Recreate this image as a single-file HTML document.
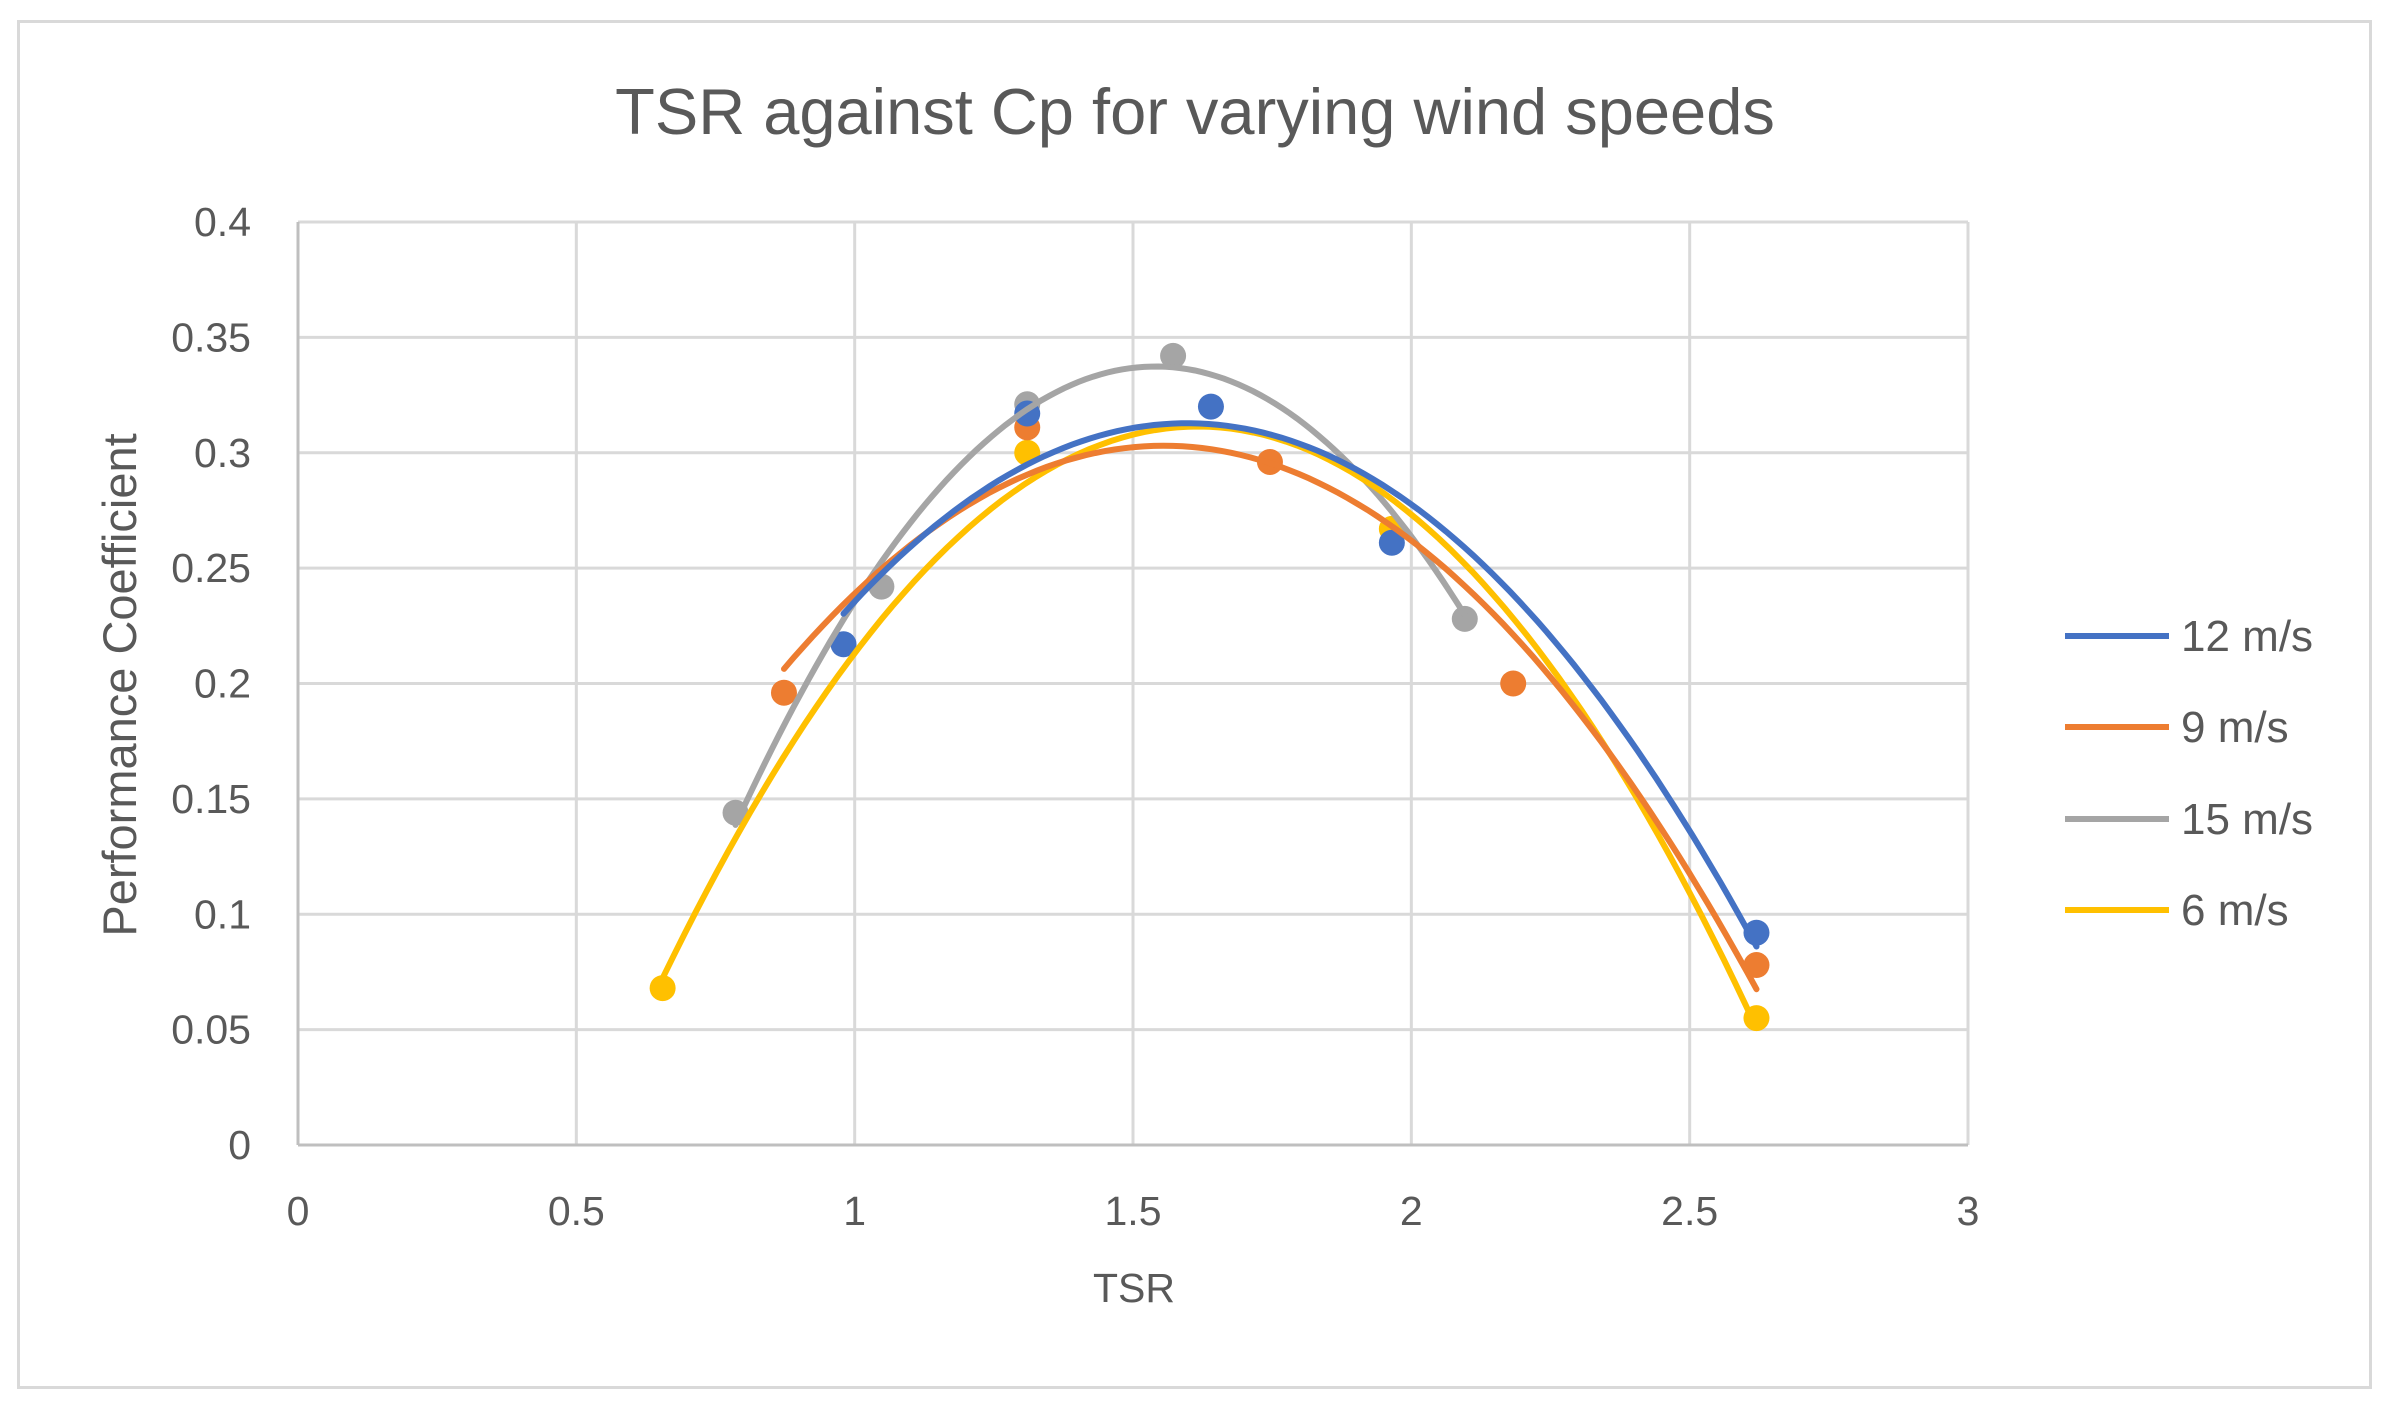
<!DOCTYPE html>
<html><head><meta charset="utf-8"><style>
body{margin:0;background:#fff;}
svg text{font-family:"Liberation Sans",sans-serif;fill:#595959;}
</style></head><body>
<svg id="s" width="2387" height="1411" xmlns="http://www.w3.org/2000/svg">
<rect x="0" y="0" width="2387" height="1411" fill="#fff"/>
<rect x="18.5" y="21.5" width="2352" height="1366" fill="#fff" stroke="#d9d9d9" stroke-width="3"/>
<text x="1195" y="134" font-size="65" text-anchor="middle">TSR against Cp for varying wind speeds</text>
<g id="grid"></g>
<text transform="translate(136,685) rotate(-90)" font-size="47" text-anchor="middle">Performance Coefficient</text>
<text x="1134" y="1302" font-size="41" text-anchor="middle">TSR</text>
<g id="series"></g>
<g font-size="44">
<line x1="2065" y1="636" x2="2169" y2="636" stroke="#4472C4" stroke-width="6"/><text x="2181" y="651">12 m/s</text>
<line x1="2065" y1="727" x2="2169" y2="727" stroke="#ED7D31" stroke-width="6"/><text x="2181" y="742">9 m/s</text>
<line x1="2065" y1="819" x2="2169" y2="819" stroke="#A5A5A5" stroke-width="6"/><text x="2181" y="834">15 m/s</text>
<line x1="2065" y1="910" x2="2169" y2="910" stroke="#FFC000" stroke-width="6"/><text x="2181" y="925">6 m/s</text>
</g>
</svg>
<script>
var X=function(v){return 298+v*556.67},Y=function(v){return 1145-v*2307.5};
var ns="http://www.w3.org/2000/svg",g=document.getElementById('grid'),sg=document.getElementById('series');
function el(p,t,a,txt){var e=document.createElementNS(ns,t);for(var k in a)e.setAttribute(k,a[k]);if(txt!=null)e.textContent=txt;p.appendChild(e);return e;}
for(var i=0;i<=8;i++){var v=i*0.05,y=Y(v);el(g,'line',{x1:298,x2:1968,y1:y,y2:y,stroke:'#d9d9d9','stroke-width':3});
el(g,'text',{x:251,y:y+14,'font-size':41,'text-anchor':'end'},(+v.toFixed(2)).toString());}
for(var i=0;i<=6;i++){var v=i*0.5,x=X(v);el(g,'line',{x1:x,x2:x,y1:222,y2:1145,stroke:'#d9d9d9','stroke-width':3});
el(g,'text',{x:x,y:1225,'font-size':41,'text-anchor':'middle'},v.toString());}
el(g,'line',{x1:298,x2:1968,y1:1145,y2:1145,stroke:'#bfbfbf','stroke-width':3});
el(g,'line',{x1:298,x2:298,y1:222,y2:1145,stroke:'#bfbfbf','stroke-width':3});
var S=[
['#A5A5A5',[[0.786,0.144],[1.048,0.242],[1.31,0.321],[1.572,0.342],[2.096,0.228]]],
['#FFC000',[[0.655,0.068],[1.31,0.3],[1.965,0.267],[2.62,0.055]]],
['#ED7D31',[[0.873,0.196],[1.31,0.311],[1.746,0.296],[2.183,0.2],[2.62,0.078]]],
['#4472C4',[[0.98,0.217],[1.31,0.317],[1.64,0.32],[1.965,0.261],[2.62,0.092]]]];
function fit(p){var s=[0,0,0,0,0],t=[0,0,0];p.forEach(function(q){var x=q[0],y=q[1];for(var k=0;k<5;k++)s[k]+=Math.pow(x,k);for(var k=0;k<3;k++)t[k]+=y*Math.pow(x,k);});
var A=[[s[0],s[1],s[2],t[0]],[s[1],s[2],s[3],t[1]],[s[2],s[3],s[4],t[2]]];
for(var i=0;i<3;i++){for(var j=i+1;j<3;j++){var f=A[j][i]/A[i][i];for(var k=i;k<4;k++)A[j][k]-=f*A[i][k];}}
var c=[0,0,0];for(var i=2;i>=0;i--){var v=A[i][3];for(var k=i+1;k<3;k++)v-=A[i][k]*c[k];c[i]=v/A[i][i];}return c;}
S.forEach(function(s){var p=s[1];p.forEach(function(q){el(sg,'circle',{cx:X(q[0]),cy:Y(q[1]),r:13,fill:s[0]});});});
S.forEach(function(s){var p=s[1],c=fit(p),a=p[0][0],b=p[p.length-1][0],d='';
for(var i=0;i<=100;i++){var x=a+(b-a)*i/100,y=c[0]+c[1]*x+c[2]*x*x;d+=(i?'L':'M')+X(x).toFixed(1)+' '+Y(y).toFixed(1);}
el(sg,'path',{d:d,fill:'none',stroke:s[0],'stroke-width':6,'stroke-linecap':'round'});});
</script>
</body></html>
